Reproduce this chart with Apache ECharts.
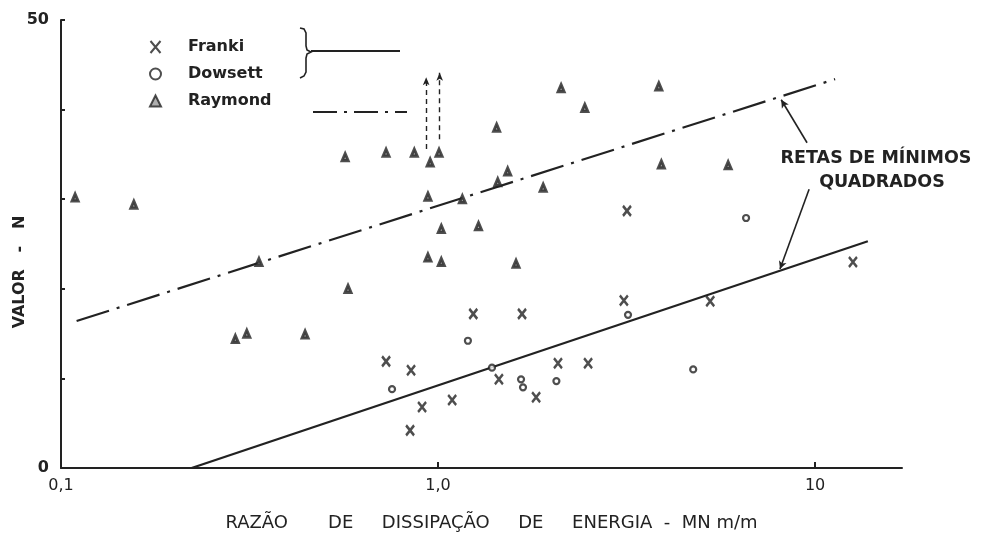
<!DOCTYPE html>
<html>
<head>
<meta charset="utf-8">
<script src="https://cdn.jsdelivr.net/npm/echarts@6/dist/echarts.min.js"></script>
<style>
  html, body { margin: 0; padding: 0; background: #ffffff; }
  #chart { width: 982px; height: 537px; }
</style>
</head>
<body>
<div id="chart"></div>
<script>
// Franki piles: energy dissipation ratio (MN m/m) vs N value
const frankiX = [0.728, 0.848, 0.843, 0.907, 1.09, 1.24, 1.45, 1.67, 1.82, 2.08, 2.50, 3.11, 3.17, 5.27, 12.6];
const frankiY = [11.9, 10.9, 4.2, 6.8, 7.6, 17.2, 9.9, 17.2, 7.9, 11.7, 11.7, 18.7, 28.7, 18.6, 23.0];

// Dowsett piles
const dowsettX = [0.755, 1.20, 1.39, 1.66, 1.68, 2.06, 3.19, 4.75, 6.56];
const dowsettY = [8.8, 14.2, 11.2, 9.9, 9.0, 9.7, 17.1, 11.0, 27.9];

// Raymond piles
const raymondX = [0.109, 0.156, 0.290, 0.311, 0.335, 0.444, 0.567, 0.577, 0.728, 0.865, 0.953, 1.006,
                  0.94, 0.94, 1.02, 1.02, 1.16, 1.28, 1.43, 1.44, 1.53, 1.61, 1.90, 2.12, 2.45, 3.85, 3.91, 5.88];
const raymondY = [30.2, 29.4, 14.4, 15.0, 23.0, 14.9, 34.7, 20.0, 35.2, 35.2, 34.1, 35.2,
                  30.3, 23.5, 23.0, 26.7, 30.0, 27.0, 38.0, 31.9, 33.1, 22.8, 31.3, 42.4, 40.2, 42.6, 33.9, 33.8];

// Least-squares lines (end points)
const fitFrankiDowsettX = [0.222, 13.8];
const fitFrankiDowsettY = [0, 25.3];
const fitRaymondX = [0.110, 11.3];
const fitRaymondY = [16.4, 43.4];

// Raymond values running off the top (dashed arrows)
const offScaleX = [0.93, 1.01];
const offScaleFromY = [35.6, 36.7];
const offScaleToY = [43.6, 44.1];

// Pointers from the note to each fitted line
const noteFromX = [9.52, 9.64];
const noteFromY = [36.3, 31.1];
const noteToX = [8.13, 8.07];
const noteToY = [41.1, 22.2];

// Axis tick labels
const xTickValues = [0.1, 1, 10];
const xTickText = ['0,1', '1,0', '10'];
const yTickValues = [0, 50];
const yTickText = ['0', '50'];

const seriesNames = ['Franki', 'Dowsett', 'Raymond'];
const noteLines = ['RETAS DE MÍNIMOS', 'QUADRADOS'];
const xTitle = 'RAZÃO       DE     DISSIPAÇÃO     DE     ENERGIA  -  MN m/m';
const yTitle = 'VALOR   -   N';

const INK = '#222222';
const FONT = '"DejaVu Sans", "Liberation Sans", sans-serif';

const pairs = (xs, ys) => xs.map((x, i) => [x, ys[i]]);
const crossPath = 'path://M0,0L10,12M10,0L0,12';
const triPath = 'path://M5,0L10,10L0,10Z';

function xLabel(v) {
  const i = xTickValues.findIndex(t => Math.abs(Math.log10(t) - Math.log10(v)) < 1e-6);
  return i >= 0 ? xTickText[i] : '';
}
function yLabel(v) {
  const i = yTickValues.indexOf(v);
  return i >= 0 ? yTickText[i] : '';
}

const chart = echarts.init(document.getElementById('chart'), null, { renderer: 'canvas' });

const option = {
  backgroundColor: '#ffffff',
  animation: false,
  grid: { left: 61, right: 80, top: 20, bottom: 67, containLabel: false },
  legend: {
    data: seriesNames,
    orient: 'vertical',
    left: 144,
    top: 34,
    itemWidth: 11,
    itemHeight: 12,
    itemGap: 11,
    selectedMode: false,
    textStyle: { fontFamily: FONT, fontSize: 16, fontWeight: 'bold', color: INK, padding: [0, 0, 0, 22] }
  },
  xAxis: {
    type: 'log',
    logBase: 10,
    min: 0.1,
    max: 17,
    name: xTitle,
    nameLocation: 'middle',
    nameGap: 46,
    nameTextStyle: { fontFamily: FONT, fontSize: 18, color: INK, padding: [0, 0, 0, 20] },
    axisLine: { show: true, lineStyle: { color: INK, width: 2 } },
    axisTick: { show: true, inside: true, length: 6, customValues: xTickValues, lineStyle: { color: INK, width: 2 } },
    minorTick: { show: false },
    axisLabel: { formatter: xLabel, customValues: xTickValues, fontFamily: FONT, fontSize: 16, color: INK, margin: 10 },
    splitLine: { show: false }
  },
  yAxis: {
    type: 'value',
    min: 0,
    max: 50,
    interval: 10,
    axisLine: { show: true, lineStyle: { color: INK, width: 2 } },
    axisTick: { show: true, inside: true, length: 4, lineStyle: { color: INK, width: 2 } },
    axisLabel: { formatter: yLabel, fontFamily: FONT, fontSize: 16, fontWeight: 'bold', color: INK, margin: 12 },
    splitLine: { show: false }
  },
  series: [
    {
      name: 'fit-franki-dowsett',
      type: 'line',
      data: pairs(fitFrankiDowsettX, fitFrankiDowsettY),
      showSymbol: false,
      silent: true,
      lineStyle: { color: INK, width: 2.2 },
      z: 1,
      markLine: {
        silent: true,
        symbol: ['none', 'arrow'],
        symbolSize: [6, 8],
        label: { show: false },
        lineStyle: { color: INK, width: 1.6, type: 'solid' },
        data: noteFromX.map((x, i) => [
          { coord: [x, noteFromY[i]] },
          { coord: [noteToX[i], noteToY[i]] }
        ])
      }
    },
    {
      name: 'fit-raymond',
      type: 'line',
      data: pairs(fitRaymondX, fitRaymondY),
      showSymbol: false,
      silent: true,
      lineStyle: { color: INK, width: 2.2, type: [34, 8, 3, 8] },
      z: 1,
      markLine: {
        silent: true,
        symbol: ['none', 'arrow'],
        symbolSize: [5, 8],
        label: { show: false },
        lineStyle: { color: INK, width: 1.4, type: [5, 4] },
        data: offScaleX.map((x, i) => [
          { coord: [x, offScaleFromY[i]] },
          { coord: [x, offScaleToY[i]] }
        ])
      }
    },
    {
      name: 'Franki',
      type: 'scatter',
      data: pairs(frankiX, frankiY),
      symbol: crossPath,
      symbolSize: [8, 10],
      itemStyle: { color: 'transparent', borderColor: INK, borderWidth: 2.6 },
      z: 3
    },
    {
      name: 'Dowsett',
      type: 'scatter',
      data: pairs(dowsettX, dowsettY),
      symbol: 'circle',
      symbolSize: 6,
      itemStyle: { color: '#ffffff', borderColor: INK, borderWidth: 2.2 },
      z: 3
    },
    {
      name: 'Raymond',
      type: 'scatter',
      data: pairs(raymondX, raymondY),
      symbol: triPath,
      symbolSize: [6, 7],
      itemStyle: { color: '#9a9a9a', borderColor: INK, borderWidth: 3 },
      z: 3
    }
  ],
  graphic: [
    // brace joining Franki and Dowsett to the solid line sample
    {
      type: 'polyline',
      shape: { points: [[300, 28], [304, 29], [306, 33], [306, 46], [307, 50], [311, 52], [307, 54], [306, 58], [306, 72], [304, 76], [300, 78]] },
      style: { fill: 'none', stroke: INK, lineWidth: 1.6 }
    },
    {
      type: 'line',
      shape: { x1: 311, y1: 51, x2: 400, y2: 51 },
      style: { stroke: INK, lineWidth: 1.8 }
    },
    {
      type: 'line',
      shape: { x1: 313, y1: 112, x2: 407, y2: 112 },
      style: { stroke: INK, lineWidth: 2.2, lineDash: [24, 7, 3, 7] }
    },
    {
      type: 'text',
      x: 20,
      y: 272,
      rotation: Math.PI / 2,
      style: {
        text: yTitle, font: 'bold 16px ' + FONT, fill: INK,
        align: 'center', verticalAlign: 'middle'
      }
    },
    {
      type: 'text',
      x: 876,
      y: 158,
      style: {
        text: noteLines[0], font: 'bold 17.5px ' + FONT, fill: INK,
        align: 'center', verticalAlign: 'middle'
      }
    },
    {
      type: 'text',
      x: 882,
      y: 182,
      style: {
        text: noteLines[1], font: 'bold 17.5px ' + FONT, fill: INK,
        align: 'center', verticalAlign: 'middle'
      }
    }
  ]
};

chart.setOption(option);
</script>
</body>
</html>
